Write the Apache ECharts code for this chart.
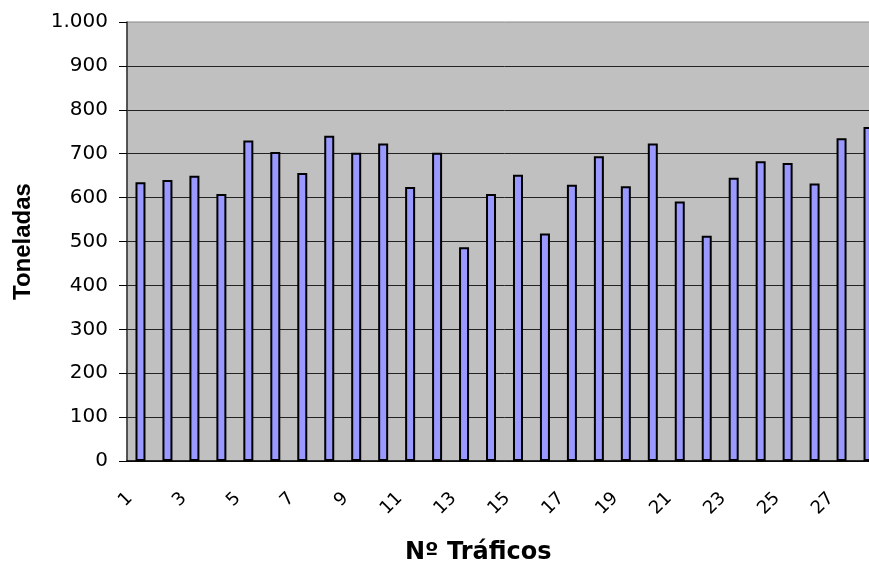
<!DOCTYPE html>
<html>
<head>
<meta charset="utf-8">
<script src="https://cdn.jsdelivr.net/npm/echarts@6/dist/echarts.min.js"></script>
<style>
html,body{margin:0;padding:0;overflow:hidden;background:#fff;width:869px;height:562px;}
#c{width:900px;height:562px;}
</style>
</head>
<body>
<div id="c"></div>
<script>
const categories = ['1','2','3','4','5','6','7','8','9','10','11','12','13','14','15','16','17','18','19','20','21','22','23','24','25','26','27','28'];
const toneladas = [635,640,650,608,730,704,656,741,702,723,624,702,487,608,652,518,629,694,626,723,591,513,645,683,679,632,735,761];
const yTicks = {min:0, max:1000, interval:100};

const chart = echarts.init(document.getElementById('c'));
chart.setOption({
  animation:false,
  title:{
    text:'Nº Tráficos', left:400, top:536,
    textStyle:{fontFamily:'DejaVu Sans', fontWeight:'bold', fontSize:24, color:'#000'}
  },
  grid:{left:127, right:18, top:22, bottom:101, show:true, backgroundColor:'#C0C0C0', borderColor:'#888', borderWidth:1},
  xAxis:{
    type:'category', data:categories, boundaryGap:true,
    axisLine:{lineStyle:{color:'#000', width:1.5}},
    axisTick:{interval:0, length:8, lineStyle:{color:'#000', width:1}},
    axisLabel:{interval:1, rotate:45, fontFamily:'DejaVu Sans', fontSize:18, color:'#000', margin:24, padding:[0,15,0,0]},
    splitLine:{show:false}
  },
  yAxis:{
    type:'value', min:yTicks.min, max:yTicks.max, interval:yTicks.interval,
    name:'Toneladas', nameLocation:'middle', nameGap:92,
    nameTextStyle:{fontFamily:'Liberation Sans', fontWeight:'bold', fontSize:24, color:'#000'},
    axisLine:{show:true, lineStyle:{color:'#333', width:1.5}},
    axisTick:{show:true, length:8, lineStyle:{color:'#000', width:1}},
    axisLabel:{fontFamily:'DejaVu Sans', fontSize:20, color:'#000', margin:19,
      formatter:v => String(v).replace(/\B(?=(\d{3})+(?!\d))/g,'.')},
    splitLine:{show:true, showMaxLine:false, lineStyle:{color:'#222', width:1}}
  },
  series:[{
    type:'bar', data:toneladas, barWidth:10,
    itemStyle:{color:'#9999FF', borderColor:'#000', borderWidth:2}
  }]
});
</script>
</body>
</html>
